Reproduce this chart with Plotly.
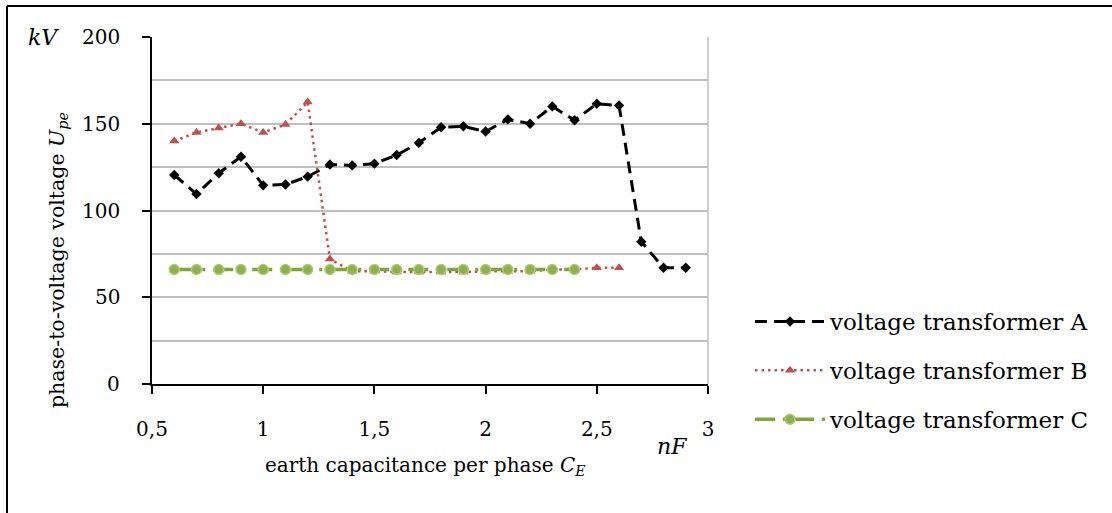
import plotly.graph_objects as go

# Earth capacitance per phase (nF) for each measured series
cap_a = [0.6, 0.7, 0.8, 0.9, 1.0, 1.1, 1.2, 1.3, 1.4, 1.5, 1.6, 1.7,
         1.8, 1.9, 2.0, 2.1, 2.2, 2.3, 2.4, 2.5, 2.6, 2.7, 2.8, 2.9]
cap_b = [0.6, 0.7, 0.8, 0.9, 1.0, 1.1, 1.2, 1.3, 1.4, 1.5, 1.6, 1.7,
         1.8, 1.9, 2.0, 2.1, 2.2, 2.3, 2.4, 2.5, 2.6]
cap_c = [0.6, 0.7, 0.8, 0.9, 1.0, 1.1, 1.2, 1.3, 1.4, 1.5, 1.6, 1.7,
         1.8, 1.9, 2.0, 2.1, 2.2, 2.3, 2.4]

# Phase-to-earth voltage U_pe (kV)
u_a = [120.5, 109.5, 121.5, 131.0, 114.5, 115.0, 119.5, 126.5, 126.0, 127.0, 132.0, 139.0,
       148.0, 148.5, 145.5, 152.5, 150.0, 160.0, 152.0, 161.5, 160.5, 82.0, 67.0, 67.0]
u_b = [140.0, 145.0, 147.5, 150.0, 145.0, 149.5, 162.5, 72.0, 65.0, 65.0, 64.5, 64.5,
       64.5, 64.5, 65.0, 65.0, 65.0, 66.0, 66.0, 67.0, 67.0]
u_c = [66.0, 66.0, 66.0, 66.0, 66.0, 66.0, 66.0, 66.0, 66.0, 66.0, 66.0, 66.0,
       66.0, 66.0, 66.0, 66.0, 66.0, 66.0, 66.0]

names = ["voltage transformer A", "voltage transformer B", "voltage transformer C"]

# Axis ticks
x_ticks = [0.5, 1, 1.5, 2, 2.5, 3]
y_ticks = [0, 50, 100, 150, 200]
y_tick_labels = ["0", "50", "100", "150", "200"]

W, H = 1112, 513
L, R, T, B = 152, 708, 37, 384  # plot area in pixels
FONT = "DejaVu Serif"
FS = 20


def px(x):
    return (x - L) / (R - L)


def py(y):
    return (B - y) / (B - T)


fig = go.Figure()
fig.add_trace(go.Scatter(
    x=cap_a, y=u_a, name=names[0], mode="lines+markers", legendgroup="a",
    line=dict(color="black", width=3, dash="12px,7px"),
    marker=dict(symbol="diamond", size=8, color="black"),
))
fig.add_trace(go.Scatter(
    x=cap_b, y=u_b, name=names[1], mode="lines+markers", legendgroup="b",
    line=dict(color="#C0504D", width=2.5, dash="2.5px,4px"),
    marker=dict(symbol="triangle-up", size=9, color="#C0504D"),
))
fig.add_trace(go.Scatter(
    x=cap_c, y=u_c, name=names[2], mode="lines+markers", legendgroup="c",
    line=dict(color="#7FA53C", width=3.5, dash="20px,8px,3px,8px"),
    marker=dict(symbol="circle", size=10, color="#8DB14C",
                line=dict(color="#AFCB79", width=1.5)),
))

annotations = [
    dict(x=px(43), y=py(37), text="<i>kV</i>", font_size=22),
    dict(x=px(672), y=py(446), text="<i>nF</i>", font_size=22),
    dict(x=px(425), y=py(466), text="earth capacitance per phase <i>C</i><sub><i>E</i></sub>"),
    dict(x=px(58), y=py(260), text="phase-to-voltage voltage <i>U</i><sub><i>pe</i></sub>",
         textangle=-90, font_size=20.5),
]
# y tick labels, right-aligned left of the axis
for v, t in zip(y_ticks, y_tick_labels):
    annotations.append(dict(x=px(122), y=v, yref="y", text=t, xanchor="right"))

for a in annotations:
    fsz = a.pop("font_size", FS)
    a.setdefault("xref", "paper")
    a.setdefault("yref", "paper")
    a.setdefault("xanchor", "center")
    a.update(showarrow=False, yanchor="middle",
             font=dict(family=FONT, size=fsz, color="black"))

shapes = [
    # right edge of the plot area
    dict(type="line", xref="paper", yref="paper", x0=1, x1=1, y0=0, y1=1,
         line=dict(color="#BFBFBF", width=1.5)),
    # outer frame (top and left edges)
    dict(type="line", xref="paper", yref="paper", x0=px(7), x1=px(W + 5),
         y0=py(6), y1=py(6), line=dict(color="black", width=2)),
    dict(type="line", xref="paper", yref="paper", x0=px(7), x1=px(7),
         y0=py(6), y1=py(H + 5), line=dict(color="black", width=2)),
]

fig.update_layout(
    width=W, height=H,
    margin=dict(l=L, r=W - R, t=T, b=H - B),
    paper_bgcolor="white", plot_bgcolor="white",
    separators=",.",
    font=dict(family=FONT, size=FS, color="black"),
    showlegend=True,
    legend=dict(
        xref="container", yref="container",
        x=750 / W, y=1 - 300 / H, xanchor="left", yanchor="top",
        font=dict(family=FONT, size=23, color="black"),
        itemwidth=70, tracegroupgap=16,
        bgcolor="rgba(0,0,0,0)",
    ),
    annotations=annotations,
    shapes=shapes,
)

fig.update_xaxes(
    range=[0.5, 3], tickvals=x_ticks,
    showgrid=False, zeroline=False,
    showline=True, linecolor="black", linewidth=2,
    ticks="outside", ticklen=8, tickwidth=2, tickcolor="black",
    ticklabelstandoff=18,
    tickfont=dict(family=FONT, size=FS, color="black"),
)
fig.update_yaxes(
    range=[0, 200], tickvals=y_ticks, showticklabels=False,
    showgrid=True, gridcolor="#BFBFBF", gridwidth=1.5, zeroline=False,
    minor=dict(dtick=25, showgrid=True, gridcolor="#BFBFBF", gridwidth=1.5),
    showline=True, linecolor="black", linewidth=2,
    ticks="outside", ticklen=8, tickwidth=2, tickcolor="black",
)

fig.write_html("out.html")
